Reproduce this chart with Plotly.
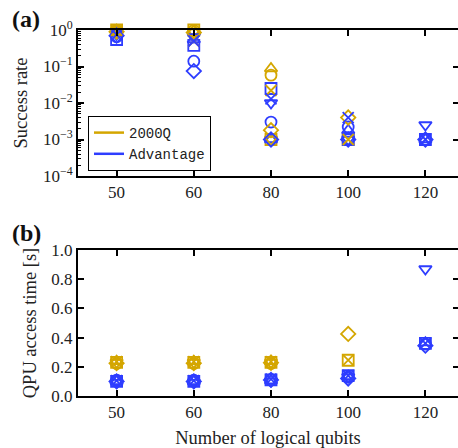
import plotly.graph_objects as go

qubits = ["50", "60", "80", "100", "120"]

# rows = problem instances (one marker symbol each), columns = qubits
success_2000q = [
    [1.0, 1.0, 0.001, 0.001, None],
    [0.98, 0.97, 0.058, None, None],
    [0.95, 0.92, 0.088, None, None],
    [0.93, 0.88, 0.001, None, None],
    [0.9, 0.85, 0.0018, 0.004, None],
    [0.97, 0.5, 0.022, 0.001, None],
]
success_adv = [
    [0.55, 0.38, 0.025, 0.001, 0.001],
    [0.65, 0.14, 0.003, 0.0022, 0.001],
    [0.8, 0.55, 0.001, 0.0018, 0.001],
    [0.75, 0.65, 0.01, 0.001, 0.0025],
    [0.7, 0.075, 0.001, 0.001, 0.001],
    [0.75, 0.5, 0.013, 0.004, 0.001],
]
time_2000q = [
    [0.23, 0.23, 0.23, 0.245, None],
    [0.222, 0.222, 0.222, None, None],
    [0.238, 0.238, 0.238, None, None],
    [0.23, 0.23, 0.23, None, None],
    [0.225, 0.225, 0.228, 0.425, None],
    [0.235, 0.235, 0.235, 0.245, None],
]
time_adv = [
    [0.10, 0.10, 0.11, 0.14, 0.36],
    [0.108, 0.108, 0.112, 0.13, 0.355],
    [0.10, 0.10, 0.105, 0.135, 0.365],
    [0.092, 0.092, 0.102, 0.13, 0.87],
    [0.10, 0.10, 0.11, 0.12, 0.345],
    [0.105, 0.105, 0.115, 0.14, 0.36],
]

log_tickvals = [1e-4, 1e-3, 1e-2, 1e-1, 1]
log_ticktext = ["10<sup>−4</sup>", "10<sup>−3</sup>", "10<sup>−2</sup>", "10<sup>−1</sup>", "10<sup>0</sup>"]
lin_tickvals = [0.0, 0.2, 0.4, 0.6, 0.8, 1.0]
lin_ticktext = ["0.0", "0.2", "0.4", "0.6", "0.8", "1.0"]

devices = ["2000Q", "Advantage"]
symbols = ["square-open", "circle-open", "triangle-up-open", "triangle-down-open", "diamond-open", "x-thin-open"]
GOLD = "#D4A600"
BLUE = "#2E3DFF"
colors = [GOLD, BLUE]
SERIF = "Liberation Serif"
TXT = "#222"

minor_log = [m * 10.0 ** e for e in range(-4, 0) for m in range(2, 10)]

fig = go.Figure()

for i, sym in enumerate(symbols):
    for dev_rows_s, dev_rows_t, col in ((success_2000q, time_2000q, GOLD), (success_adv, time_adv, BLUE)):
        common = dict(mode="markers", showlegend=False, cliponaxis=False, hoverinfo="skip",
                      marker=dict(symbol=sym, size=11, color=col, line=dict(color=col, width=1.8)))
        fig.add_trace(go.Scatter(x=qubits, y=dev_rows_s[i], xaxis="x", yaxis="y", **common))
        fig.add_trace(go.Scatter(x=qubits, y=dev_rows_t[i], xaxis="x2", yaxis="y2", **common))

for name, col in zip(devices, colors):
    fig.add_trace(go.Scatter(x=[None], y=[None], mode="lines", name=name,
                             line=dict(color=col, width=2.5), xaxis="x", yaxis="y"))

# invisible traces so that the right-hand tick-only axes get drawn
fig.add_trace(go.Scatter(x=[None], y=[None], xaxis="x", yaxis="y3", showlegend=False, hoverinfo="skip"))
fig.add_trace(go.Scatter(x=[None], y=[None], xaxis="x2", yaxis="y4", showlegend=False, hoverinfo="skip"))

W, H = 458, 448
L = 78
x_end = (W - L) / (464 - L) * 5 - 0.5
dom_a = [(H - 176) / H, (H - 30) / H]
dom_b = [(H - 396) / H, (H - 250) / H]

xcommon = dict(type="category", categoryorder="array", categoryarray=qubits,
               range=[-0.5, x_end], showline=True, linecolor="black", linewidth=2,
               mirror="ticks", ticks="inside", ticklen=6, tickwidth=1.5, tickcolor="black",
               showgrid=False, zeroline=False, automargin=False,
               tickfont=dict(family=SERIF, size=17, color=TXT), domain=[L / W, 1])
ycommon = dict(showline=True, linecolor="black", linewidth=2, ticks="inside", ticklen=6,
               tickwidth=1.5, tickcolor="black", showgrid=False, zeroline=False, automargin=False,
               tickfont=dict(family=SERIF, size=17, color=TXT))
yright = dict(side="right", showline=False, ticks="inside", ticklen=5, tickwidth=1.5,
              tickcolor="black", showticklabels=False, showgrid=False, zeroline=False,
              automargin=False)

fig.update_layout(
    width=W, height=H, margin=dict(l=0, r=0, t=0, b=0),
    paper_bgcolor="white", plot_bgcolor="white",
    xaxis=dict(anchor="y", **xcommon),
    xaxis2=dict(anchor="y2", title=dict(text="Number of logical qubits",
                font=dict(family=SERIF, size=18.5, color=TXT), standoff=13), **xcommon),
    yaxis=dict(anchor="x", type="log", range=[-4, 0], tickvals=log_tickvals, ticktext=log_ticktext,
               domain=dom_a,
               minor=dict(tickmode="array", tickvals=minor_log, ticks="inside", ticklen=3,
                          tickwidth=1, tickcolor="black", showgrid=False),
               title=dict(text="Success rate", font=dict(family=SERIF, size=18.5, color=TXT), standoff=10),
               **ycommon),
    yaxis2=dict(anchor="x2", range=[0, 1], tickvals=lin_tickvals, ticktext=lin_ticktext,
                domain=dom_b,
                title=dict(text="QPU access time [s]", font=dict(family=SERIF, size=18.5, color=TXT), standoff=10),
                **ycommon),
    yaxis3=dict(overlaying="y", anchor="x", type="log", range=[-4, 0], tickvals=log_tickvals,
                domain=dom_a, **yright),
    yaxis4=dict(overlaying="y2", anchor="x2", range=[0, 1], tickvals=lin_tickvals,
                domain=dom_b, **yright),
    legend=dict(x=88 / W, y=(H - 171) / H, xanchor="left", yanchor="bottom",
                bgcolor="white", bordercolor="black", borderwidth=1,
                font=dict(family="Liberation Mono", size=14, color=TXT),
                tracegroupgap=0, itemwidth=30),
    annotations=[
        dict(text="<b>(a)</b>", x=10 / W, y=(H - 4) / H, xref="paper", yref="paper",
             xanchor="left", yanchor="top", showarrow=False,
             font=dict(family=SERIF, size=24, color="#111")),
        dict(text="<b>(b)</b>", x=10 / W, y=(H - 218) / H, xref="paper", yref="paper",
             xanchor="left", yanchor="top", showarrow=False,
             font=dict(family=SERIF, size=24, color="#111")),
    ],
)

fig.write_html("out.html")
